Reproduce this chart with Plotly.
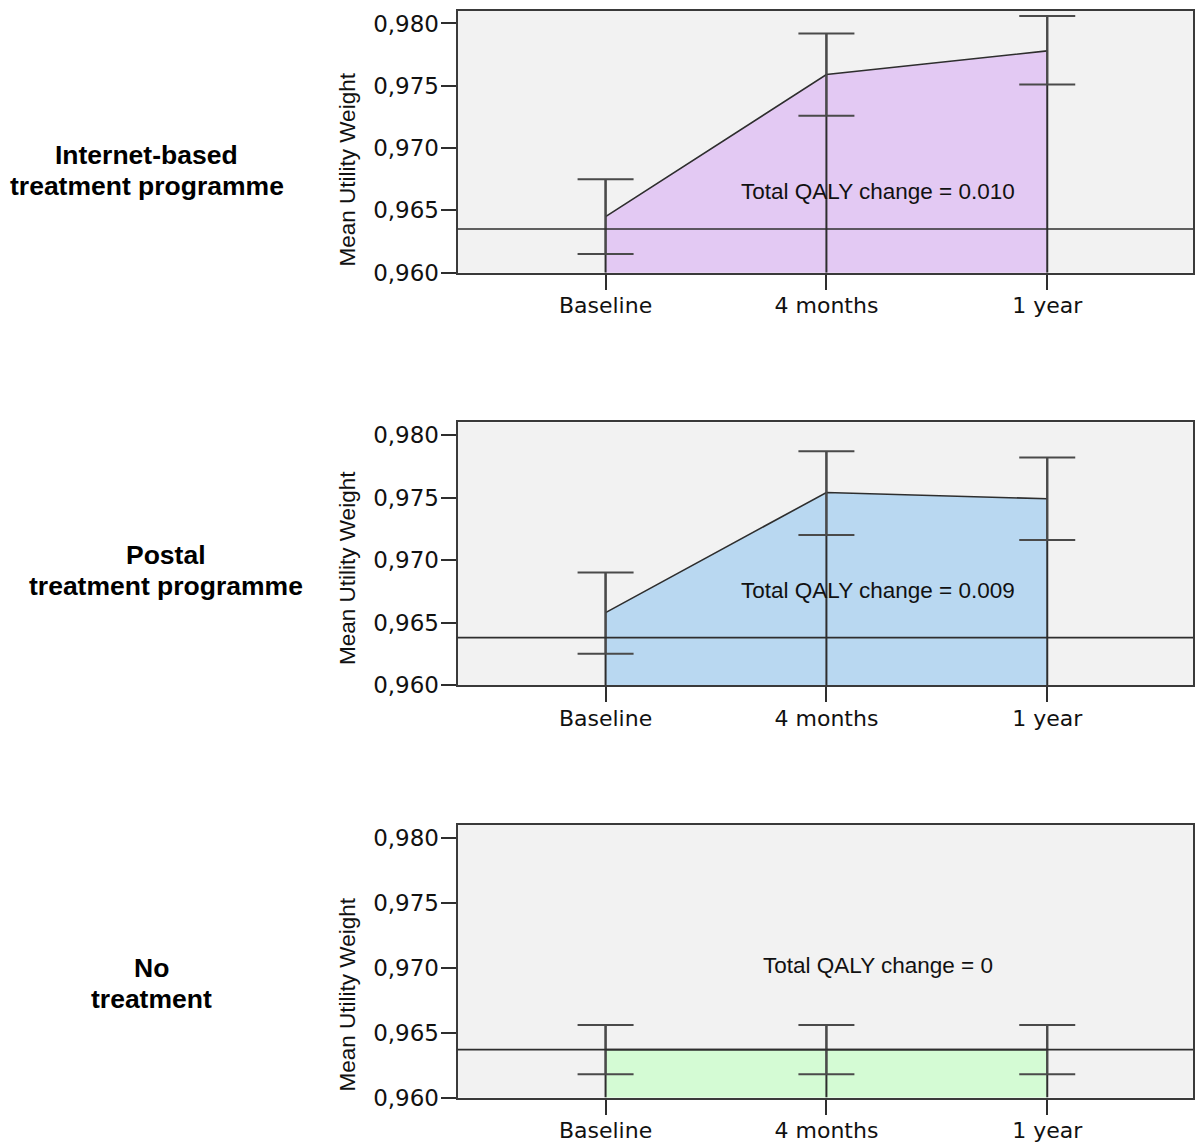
import plotly.graph_objects as go

# ---- data ----
timepoints = ["Baseline", "4 months", "1 year"]
tick_positions = [0, 1, 2]

internet_mean = [0.9645, 0.9759, 0.9778]
internet_upper = [0.9675, 0.9792, 0.9806]
internet_lower = [0.9615, 0.9726, 0.9751]

postal_mean = [0.9658, 0.9754, 0.9749]
postal_upper = [0.9690, 0.9787, 0.9782]
postal_lower = [0.9625, 0.9720, 0.9716]

none_mean = [0.9637, 0.9637, 0.9637]
none_upper = [0.9656, 0.9656, 0.9656]
none_lower = [0.9618, 0.9618, 0.9618]

reference_levels = [0.9635, 0.9638, 0.9637]
qaly_labels = ["Total QALY change = 0.010", "Total QALY change = 0.009", "Total QALY change = 0"]
group_labels = [("Internet-based", "treatment programme"),
                ("Postal", "treatment programme"),
                ("No", "treatment")]
y_title = "Mean Utility Weight"

y_ticks = [0.960, 0.965, 0.970, 0.975, 0.980]
y_ticktext = ["0,960", "0,965", "0,970", "0,975", "0,980"]
y_min, y_max = 0.960, 0.981

# ---- styling / layout (pixel positions) ----
W, H = 1195, 1143
S = 0.989  # vertical compensation for page capture


def py(v):
    return 1 - (v / S) / H


fills = ["#e3c9f3", "#b9d8f1", "#d4fbd4"]
line_col = "#2e2e2e"
cap_col = "#4a4a4a"
x_domain = [458 / W, 1194 / W]
panel_px = [(11, 273), (423, 686), (826, 1099)]
label_centers_x = [147, 166, 152]
label_lines_y = [(155, 186), (556, 587), (969, 1000)]
title_center_y = [170, 569, 996]
qaly_y = [0.9665, 0.9676, 0.9702]

panels = [
    (internet_mean, internet_upper, internet_lower),
    (postal_mean, postal_upper, postal_lower),
    (none_mean, none_upper, none_lower),
]

fig = go.Figure()
layout = dict(
    width=W, height=H,
    margin=dict(l=0, r=0, t=0, b=0),
    paper_bgcolor="white",
    plot_bgcolor="#f2f2f2",
    showlegend=False,
    annotations=[], shapes=[],
)

for i, (mean, upper, lower) in enumerate(panels):
    n = i + 1
    xa = "x" if n == 1 else f"x{n}"
    ya = "y" if n == 1 else f"y{n}"
    fig.add_trace(go.Scatter(
        x=tick_positions, y=mean, xaxis=xa, yaxis=ya,
        mode="lines", line=dict(color=line_col, width=1.6),
        fill="tozeroy", fillcolor=fills[i], hoverinfo="skip",
    ))
    fig.add_trace(go.Scatter(
        x=tick_positions, y=mean, xaxis=xa, yaxis=ya, mode="markers",
        marker=dict(size=1, color="rgba(0,0,0,0)"),
        error_y=dict(type="data", symmetric=False,
                     array=[u - m for u, m in zip(upper, mean)],
                     arrayminus=[m - y_min for m in mean],
                     width=0, thickness=2, color=line_col),
        hoverinfo="skip",
    ))
    fig.add_trace(go.Scatter(
        x=tick_positions, y=mean, xaxis=xa, yaxis=ya, mode="markers",
        marker=dict(size=1, color="rgba(0,0,0,0)"),
        error_y=dict(type="data", symmetric=False,
                     array=[u - m for u, m in zip(upper, mean)],
                     arrayminus=[m - l for m, l in zip(mean, lower)],
                     width=28, thickness=2, color=cap_col),
        hoverinfo="skip",
    ))

    top_px, bot_px = panel_px[i]
    xkey = "xaxis" if n == 1 else f"xaxis{n}"
    ykey = "yaxis" if n == 1 else f"yaxis{n}"
    layout[xkey] = dict(
        domain=x_domain, anchor=ya, range=[-0.67, 2.66],
        tickmode="array", tickvals=tick_positions, ticktext=timepoints,
        ticks="outside", ticklen=15, tickwidth=2, tickcolor=line_col,
        ticklabelstandoff=-3,
        showline=True, linecolor="#3a3a3a", linewidth=2, mirror=True,
        showgrid=False, zeroline=False,
        tickfont=dict(family="DejaVu Sans", size=22, color="#111"),
    )
    layout[ykey] = dict(
        domain=[py(bot_px), py(top_px)], anchor=xa, range=[y_min, y_max],
        tickmode="array", tickvals=y_ticks, ticktext=y_ticktext,
        ticks="outside", ticklen=15, tickwidth=2, tickcolor=line_col,
        ticklabelstandoff=-3,
        showline=True, linecolor="#3a3a3a", linewidth=2, mirror=True,
        showgrid=False, zeroline=False,
        tickfont=dict(family="DejaVu Sans", size=23, color="#111"),
    )
    layout["shapes"].append(dict(
        type="line", xref=f"{xa} domain", yref=ya, x0=0, x1=1,
        y0=reference_levels[i], y1=reference_levels[i],
        line=dict(color=line_col, width=1.6), layer="above",
    ))
    layout["annotations"].append(dict(
        x=1.235, y=qaly_y[i], xref=xa, yref=ya, text=qaly_labels[i],
        showarrow=False, xanchor="center", yanchor="middle",
        font=dict(family="Liberation Sans, Arial", size=22.5, color="#111"),
    ))
    layout["annotations"].append(dict(
        x=348 / W, y=py(title_center_y[i]), xref="paper", yref="paper",
        text=y_title, textangle=-90, showarrow=False,
        xanchor="center", yanchor="middle",
        font=dict(family="Liberation Sans, Arial", size=22.5, color="#111"),
    ))
    for line_text, ly in zip(group_labels[i], label_lines_y[i]):
        layout["annotations"].append(dict(
            x=label_centers_x[i] / W, y=py(ly), xref="paper", yref="paper",
            text=f"<b>{line_text}</b>",
            showarrow=False, xanchor="center", yanchor="middle", align="center",
            font=dict(family="Liberation Sans, Arial", size=26.5, color="#000"),
        ))

fig.update_layout(**layout)
fig.write_html(
    "out.html",
    config={"displayModeBar": False},
    post_script=(
        "document.documentElement.style.margin='0';"
        "document.documentElement.style.overflow='hidden';"
        "document.body.style.margin='0';"
        "document.body.style.overflow='hidden';"
    ),
)
